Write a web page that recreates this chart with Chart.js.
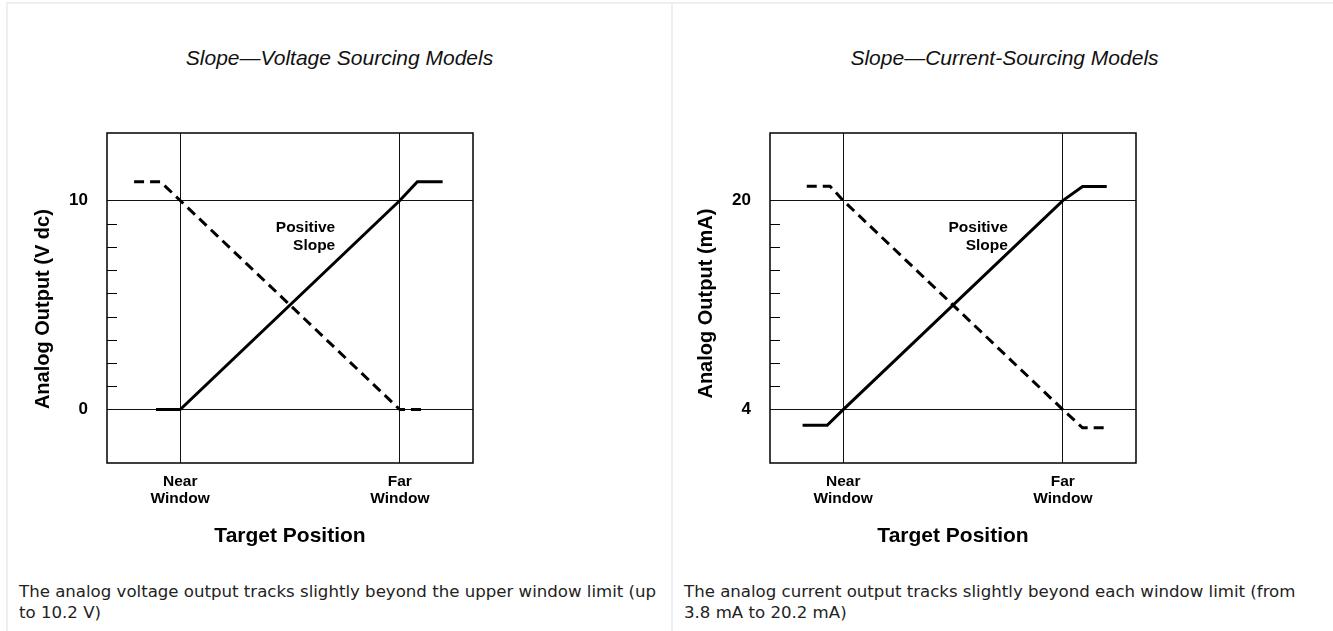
<!DOCTYPE html>
<html>
<head>
<meta charset="utf-8">
<title>Slope</title>
<script src="https://cdn.jsdelivr.net/npm/chart.js@4.4.1/dist/chart.umd.min.js"></script>
<style>
    body { margin: 0; background: #fff; font-family: "Liberation Sans", Arial, sans-serif; }
    .panel { position: absolute; top: 2px; width: 663px; height: 640px; border-top: 2px solid #eee; border-left: 2px solid #eee; }
    #panel-volt { left: 6px; }
    #panel-curr { left: 671px; }
    .title { position: absolute; left: 0; right: 0; top: 42px; text-align: center; font-style: italic; font-size: 21px; line-height: 24px; color: #111; }
    .caption { position: absolute; left: 11px; top: 577px; font-family: "DejaVu Sans", Verdana, sans-serif; font-size: 16.6px; line-height: 21px; color: #222; }
    #panel-volt .caption { right: 6px; }
    #panel-curr .caption { right: 26px; }
    canvas { position: absolute; top: 106px; }
    #voltChart { left: 8px; }
    #currChart { left: 6px; }
</style>
</head>
<body>

<div class="panel" id="panel-volt">
    <div class="title">Slope—Voltage Sourcing Models</div>
    <canvas id="voltChart" width="470" height="450"></canvas>
    <div class="caption">The analog voltage output tracks slightly beyond the upper window limit (up to 10.2 V)</div>
</div>

<div class="panel" id="panel-curr">
    <div class="title">Slope—Current-Sourcing Models</div>
    <canvas id="currChart" width="470" height="450"></canvas>
    <div class="caption">The analog current output tracks slightly beyond each window limit (from 3.8 mA to 20.2 mA)</div>
</div>

<script>
// target position: near window = 0, far window = 10
const xTicks = [0, 10];
const xLabels = [["Near", "Window"], ["Far", "Window"]];

// voltage sourcing models
const voltTicks = [0, 10];
const voltLabels = ["0", "10"];
const voltPosX = [-1.1, 0, 10, 10.8, 11.95];
const voltPosY = [0, 0, 10, 10.9, 10.9];
const voltNegX = [-2.1, -0.9, 0, 10, 11.1];
const voltNegY = [10.9, 10.9, 10, 0, 0];

// current sourcing models
const currTicks = [4, 20];
const currLabels = ["4", "20"];
const currPosX = [-1.85, -0.73, 0, 10, 10.9, 12.0];
const currPosY = [2.8, 2.8, 4, 20, 21.07, 21.07];
const currNegX = [-1.66, -0.6, 0, 10, 10.9, 12.0];
const currNegY = [21.1, 21.1, 20, 4, 2.6, 2.6];

const noteLines = ["Positive", "Slope"];

const boldFont = '"Liberation Sans", Arial, sans-serif';

// box round the plot, short minor ticks on the left side, and the slope note
const framePlugin = {
    id: "frame",
    beforeDatasetsDraw(chart, args, opts) {
        const { ctx, chartArea: a } = chart;
        const x = chart.scales.x, y = chart.scales.y;
        ctx.save();
        ctx.strokeStyle = "#000";
        ctx.lineWidth = 1.5;
        ctx.strokeRect(a.left, a.top, a.right - a.left, a.bottom - a.top);

        const lo = opts.major[0], hi = opts.major[1];
        ctx.lineWidth = 1;
        for (let k = 1; k < opts.divisions; k++) {
            const py = Math.round(y.getPixelForValue(lo + (hi - lo) * k / opts.divisions)) + 0.5;
            ctx.beginPath();
            ctx.moveTo(a.left, py);
            ctx.lineTo(a.left + 10, py);
            ctx.stroke();
        }

        ctx.fillStyle = "#000";
        ctx.font = "bold 15.5px " + boldFont;
        ctx.textAlign = "right";
        ctx.textBaseline = "alphabetic";
        const nx = x.getPixelForValue(opts.noteAt[0]);
        const ny = y.getPixelForValue(opts.noteAt[1]);
        noteLines.forEach((line, i) => ctx.fillText(line, nx, ny + i * 18.5));
        ctx.restore();
    }
};

function points(xs, ys) {
    return xs.map((v, i) => ({ x: v, y: ys[i] }));
}

function buildChart(id, o) {
    new Chart(document.getElementById(id), {
        type: "scatter",
        data: {
            datasets: [{
                data: points(o.posX, o.posY),
                showLine: true,
                borderColor: "#000",
                borderWidth: 3,
                pointRadius: 0
            }, {
                data: points(o.negX, o.negY),
                showLine: true,
                borderColor: "#000",
                borderWidth: 3,
                borderDash: [10, 6],
                pointRadius: 0
            }]
        },
        options: {
            responsive: false,
            animation: false,
            devicePixelRatio: 1,
            layout: { padding: { top: 23, right: 13, left: 0, bottom: 0 } },
            plugins: {
                legend: { display: false },
                tooltip: { enabled: false },
                frame: { major: o.ticks, divisions: 9, noteAt: o.noteAt }
            },
            scales: {
                x: {
                    type: "linear",
                    min: -3.333,
                    max: 13.333,
                    afterBuildTicks: s => { s.ticks = xTicks.map(v => ({ value: v })); },
                    afterFit: s => { s.height = 97; s.paddingLeft = 0; s.paddingRight = 0; },
                    grid: { color: "#111", lineWidth: 1, drawTicks: false },
                    border: { display: false },
                    ticks: {
                        padding: 10,
                        maxRotation: 0,
                        autoSkip: false,
                        color: "#000",
                        font: { family: boldFont, size: 15.5, weight: "bold", lineHeight: 1.1 },
                        callback: (v, i) => xLabels[i]
                    },
                    title: {
                        display: true,
                        text: "Target Position",
                        color: "#000",
                        font: { family: boldFont, size: 21, weight: "bold" },
                        padding: { top: 0, bottom: 11 }
                    }
                },
                y: {
                    type: "linear",
                    min: o.min,
                    max: o.max,
                    afterBuildTicks: s => { s.ticks = o.ticks.map(v => ({ value: v })); },
                    afterFit: s => { s.width = 91; s.paddingTop = 0; s.paddingBottom = 0; },
                    grid: { color: "#111", lineWidth: 1, drawTicks: false },
                    border: { display: false },
                    ticks: {
                        padding: 19,
                        color: "#000",
                        font: { family: boldFont, size: 17, weight: "bold" },
                        callback: (v, i) => o.labels[i]
                    },
                    title: {
                        display: true,
                        text: o.yTitle,
                        color: "#000",
                        font: { family: boldFont, size: 20, weight: "bold" },
                        padding: { top: 15, bottom: 0 }
                    }
                }
            }
        },
        plugins: [framePlugin]
    });
}

buildChart("voltChart", {
    posX: voltPosX, posY: voltPosY, negX: voltNegX, negY: voltNegY,
    ticks: voltTicks, labels: voltLabels,
    min: -2.556, max: 13.23,
    yTitle: "Analog Output (V dc)" + "\u00a0".repeat(4),
    noteAt: [7.06, 8.5]
});

buildChart("currChart", {
    posX: currPosX, posY: currPosY, negX: currNegX, negY: currNegY,
    ticks: currTicks, labels: currLabels,
    min: -0.09, max: 25.17,
    yTitle: "Analog Output (mA)" + "\u00a0".repeat(2),
    noteAt: [7.5, 17.62]
});
</script>
</body>
</html>
